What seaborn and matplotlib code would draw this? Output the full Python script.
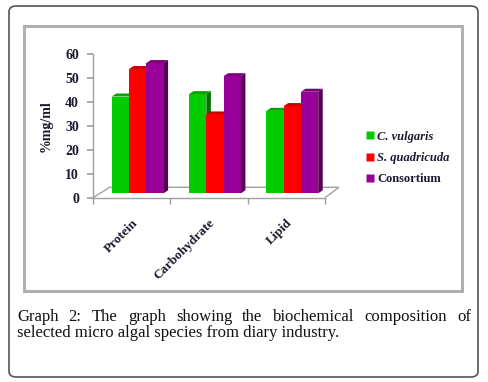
import numpy as np
import pandas as pd
import matplotlib as mpl
import matplotlib.pyplot as plt
import seaborn as sns
from matplotlib.patches import Polygon, FancyBboxPatch, Rectangle
from matplotlib.lines import Line2D
from matplotlib.transforms import ScaledTranslation

sns.set_theme(style="white")
plt.rcParams['font.family'] = ['Liberation Serif', 'DejaVu Serif']

# data
nutrients = ["Protein", "Carbohydrate", "Lipid"]
species = ["C. vulgaris", "S. quadricuda", "Consortium"]
c_vulgaris = [40.5, 41.5, 34.5]
s_quadricuda = [52, 33, 36.5]
consortium = [54.5, 49, 42.5]
colors = ["#00CC00", "#FF0000", "#990099"]

df = pd.DataFrame({
    "nutrient": nutrients * 3,
    "species": np.repeat(species, 3),
    "value": c_vulgaris + s_quadricuda + consortium,
})

W, H = 488, 382
fig = plt.figure(figsize=(W / 100, H / 100), dpi=100)
ink = "#1a1a2e"

# outer rounded frame and inner chart frame
fig.patches.append(FancyBboxPatch((9 / W, 1 - 377 / H), 469 / W, 371 / H,
                                  boxstyle="round,pad=0,rounding_size=0.015",
                                  transform=fig.transFigure, fill=False,
                                  edgecolor="#555555", lw=1.2))
fig.patches.append(Rectangle((24 / W, 1 - 291 / H), 438 / W, 265 / H,
                             transform=fig.transFigure, fill=False,
                             edgecolor="#b0b0b0", lw=2.2))

ax = fig.add_axes([93 / W, 1 - 197.7 / H, 232 / W, 143.4 / H])
ax.patch.set_alpha(0)
sns.barplot(data=df, x="nutrient", y="value", hue="species", palette=colors,
            width=0.67, saturation=1, legend=False, ax=ax, edgecolor="none")
ax.set_xlim(-0.5, 2.5)
ax.set_ylim(0, 60)

# pixel -> data conversion
sx = 3 / 232
sy = 60 / 143.4
shift = ScaledTranslation(6 / 100, 4.4 / 100, fig.dpi_scale_trans)
ddx, ddy = 4.5 * sx, 3 * sy


def shade(c, f):
    r, g, b = mpl.colors.to_rgb(c)
    return (r * f, g * f, b * f)


bars = [p for p in ax.patches if p.get_height() > 0]
bars.sort(key=lambda p: p.get_x())
for i, p in enumerate(bars):
    x0, w, h = p.get_x(), p.get_width(), p.get_height()
    c = p.get_facecolor()
    z = 2 + i * 0.1
    p.set_transform(ax.transData + shift)
    p.set_zorder(z + 0.05)
    side = Polygon([(x0 + w, 0), (x0 + w + ddx, ddy), (x0 + w + ddx, h + ddy), (x0 + w, h)],
                   closed=True, facecolor=shade(c, 0.55), edgecolor="none",
                   transform=ax.transData + shift, zorder=z)
    top = Polygon([(x0, h), (x0 + ddx, h + ddy), (x0 + w + ddx, h + ddy), (x0 + w, h)],
                  closed=True, facecolor=shade(c, 0.8), edgecolor="none",
                  transform=ax.transData + shift, zorder=z)
    ax.add_patch(side)
    ax.add_patch(top)

# floor
fx, fy = 16.7 * sx, 10.4 * sy
floor = Polygon([(-0.5, 0), (-0.5 + fx, fy), (2.5 + 14 * sx, fy), (2.5, 0)], closed=False,
                fill=False, edgecolor="#a0a0a0", lw=1.0, transform=ax.transData,
                clip_on=False, zorder=1)
ax.add_patch(floor)

for s in ["top", "right"]:
    ax.spines[s].set_visible(False)
for s in ["left", "bottom"]:
    ax.spines[s].set_color("#a0a0a0")
    ax.spines[s].set_linewidth(1.0)

ax.set_yticks(range(0, 61, 10))
ax.tick_params(axis="y", direction="out", length=4, color="#a0a0a0", left=True,
               labelsize=10, pad=6)
for t in ax.get_yticklabels():
    t.set_fontweight("bold")
    t.set_color(ink)

ax.set_xticks([0, 1, 2])
ax.set_xticks([-0.5, 0.5, 1.5, 2.5], minor=True)
ax.tick_params(axis="x", which="major", length=0, pad=14)
ax.tick_params(axis="x", which="minor", direction="out", length=4,
               color="#a0a0a0", bottom=True)
ax.set_xticklabels(nutrients, rotation=45, ha="right", rotation_mode="anchor",
                   fontsize=9.5, fontweight="bold", color=ink)
ax.set_xlabel("")
ax.set_ylabel("%mg/ml", fontsize=10, fontweight="bold", color=ink, labelpad=9)

handles = [Line2D([], [], marker="s", linestyle="none", markersize=6,
                  markerfacecolor=c, markeredgecolor="none") for c in colors]
leg = fig.legend(handles, species, loc="center left", bbox_to_anchor=(361 / W, 1 - 158 / H),
                 frameon=False, fontsize=9, handlelength=0.6, handletextpad=0.3,
                 labelspacing=0.75, borderaxespad=0)
for i, t in enumerate(leg.get_texts()):
    t.set_fontweight("bold")
    t.set_color(ink)
    if i < 2:
        t.set_fontstyle("italic")

# caption, first line justified
cap_font = dict(family="Liberation Serif", fontsize=12, color="#111111")
line1 = "Graph 2: The graph showing the biochemical composition of".split()
line2 = "selected micro algal species from diary industry."
renderer = fig.canvas.get_renderer()
words = [fig.text(0, 0, w, va="baseline", **cap_font) for w in line1]
widths = [t.get_window_extent(renderer).width for t in words]
left, right = 17, 471
gap = (right - left - sum(widths)) / (len(words) - 1)
xpos = left
for t, wdt in zip(words, widths):
    t.set_position((xpos / W, 1 - 321 / H))
    xpos += wdt + gap
fig.text(left / W, 1 - 337 / H, line2, va="baseline", **cap_font)

fig.savefig("out.png", dpi=100)
